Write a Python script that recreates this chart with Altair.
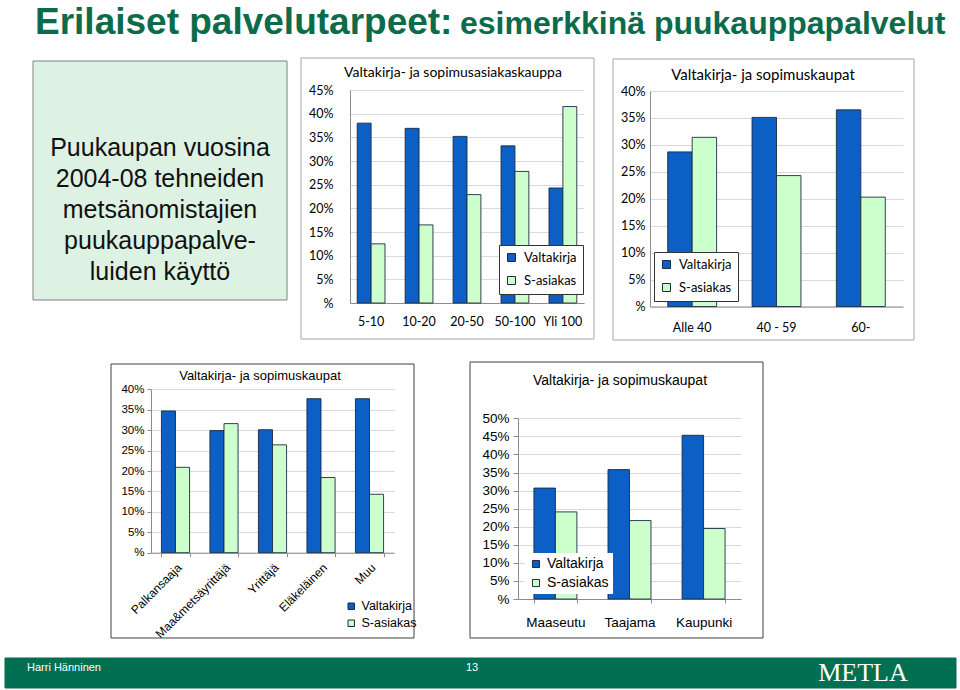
import altair as alt
import pandas as pd

W, H = 960, 690

# ---------------- data ----------------
SERIES = ["Valtakirja", "S-asiakas"]
SERIES_COLORS = ["#0B5FC5", "#CCFFCC"]

TITLE_MAIN = "Erilaiset palvelutarpeet:"
TITLE_SUB = "esimerkkinä puukauppapalvelut"
BOX_LINES = ["Puukaupan vuosina", "2004-08 tehneiden", "metsänomistajien",
             "puukauppapalve-", "luiden käyttö"]
FOOTER_AUTHOR = "Harri Hänninen"
FOOTER_PAGE = "13"
FOOTER_LOGO = "METLA"

P1_TITLE = "Valtakirja- ja sopimusasiakaskauppa"
P1_CATS = ["5-10", "10-20", "20-50", "50-100", "Yli 100"]
P1_VALTA = [38.0, 36.9, 35.2, 33.2, 24.3]
P1_SAS = [12.5, 16.5, 22.9, 27.8, 41.5]
P1_TICKS = [0, 5, 10, 15, 20, 25, 30, 35, 40, 45]

P2_TITLE = "Valtakirja- ja sopimuskaupat"
P2_CATS = ["Alle 40", "40 - 59", "60-"]
P2_VALTA = [28.7, 35.1, 36.5]
P2_SAS = [31.4, 24.3, 20.3]
P2_TICKS = [0, 5, 10, 15, 20, 25, 30, 35, 40]

P3_TITLE = "Valtakirja- ja sopimuskaupat"
P3_CATS = ["Palkansaaja", "Maa&metsäyrittäjä", "Yrittäjä", "Eläkeläinen", "Muu"]
P3_VALTA = [34.7, 29.9, 30.1, 37.7, 37.7]
P3_SAS = [20.9, 31.6, 26.4, 18.4, 14.3]
P3_TICKS = [0, 5, 10, 15, 20, 25, 30, 35, 40]

P4_TITLE = "Valtakirja- ja sopimuskaupat"
P4_CATS = ["Maaseutu", "Taajama", "Kaupunki"]
P4_VALTA = [30.7, 35.8, 45.3]
P4_SAS = [24.1, 21.7, 19.5]
P4_TICKS = [0, 5, 10, 15, 20, 25, 30, 35, 40, 45, 50]

TOP_FONT = "Lato, Open Sans, sans-serif"
BOT_FONT = "Liberation Sans, Arial, sans-serif"
LABEL_EXPR = "datum.value == 0 ? '%' : datum.value + '%'"

blank = alt.Data(values=[{}])


def rect(x, x2, y, y2, fill=None, stroke="#888888", sw=1.0):
    kw = dict(stroke=stroke, strokeWidth=sw)
    if fill:
        kw["fill"] = fill
    else:
        kw["fillOpacity"] = 0
        kw["fill"] = "white"
    return alt.Chart(blank).mark_rect(**kw).encode(
        x=alt.value(x), x2=alt.value(x2), y=alt.value(y), y2=alt.value(y2))


def text(t, x, y, size, font, color="#000000", weight="normal", align="center",
         baseline="middle", **kw):
    return alt.Chart(blank).mark_text(
        text=t, x=x, y=y, fontSize=size, font=font, color=color,
        fontWeight=weight, align=align, baseline=baseline, **kw
    ).encode(opacity=alt.value(1))


def panel(cats, valta, sas, ticks, *, xr, yr, po, font, fs, xaxis, yaxis, legend):
    n = len(cats)
    df = pd.DataFrame({
        "cat": cats + cats,
        "series": [SERIES[0]] * n + [SERIES[1]] * n,
        "value": valta + sas,
    })
    common = dict(labelFont=font, labelFontSize=fs, labelColor="#000000",
                  domainColor="#8c8c8c", tickColor="#8c8c8c", labelOverlap=False)
    xkw = dict(common, orient="bottom", offset=-(H - yr[0]), grid=False)
    xkw.update(xaxis)
    ykw = dict(common, orient="left", offset=-xr[0], values=ticks,
               labelExpr=LABEL_EXPR, grid=True, gridColor="#d9d9d9")
    ykw.update(yaxis)
    return alt.Chart(df).mark_bar(stroke="#1d2a44", strokeWidth=0.9).encode(
        x=alt.X("cat:N", sort=cats, title=None,
                scale=alt.Scale(range=xr, paddingInner=0.42, paddingOuter=po),
                axis=alt.Axis(**xkw)),
        xOffset=alt.XOffset("series:N", sort=SERIES,
                            scale=alt.Scale(paddingInner=0, paddingOuter=0)),
        y=alt.Y("value:Q", title=None,
                scale=alt.Scale(domain=[0, ticks[-1]], range=yr, nice=False, zero=True),
                axis=alt.Axis(**ykw)),
        color=alt.Color("series:N", sort=SERIES,
                        scale=alt.Scale(domain=SERIES, range=SERIES_COLORS),
                        legend=alt.Legend(orient="none", title=None, direction="vertical",
                                          symbolType="square", symbolStrokeColor="#1d2a44",
                                          symbolStrokeWidth=1, labelFont=font,
                                          labelColor="#000000", **legend)),
    )


p1 = panel(P1_CATS, P1_VALTA, P1_SAS, P1_TICKS,
           xr=[350, 584], yr=[303, 90], po=0.15, font=TOP_FONT, fs=12.5,
           xaxis=dict(ticks=False, labelPadding=12, labelAngle=0),
           yaxis=dict(ticks=False, labelPadding=17),
           legend=dict(legendX=499, legendY=245, labelFontSize=13, symbolSize=64,
                       rowPadding=9, padding=6, fillColor="white", strokeColor="#333333",
                       labelOffset=6))

p2 = panel(P2_CATS, P2_VALTA, P2_SAS, P2_TICKS,
           xr=[650, 903], yr=[306.5, 91], po=0.21, font=TOP_FONT, fs=12.5,
           xaxis=dict(ticks=False, labelPadding=15, labelAngle=0),
           yaxis=dict(ticks=False, labelPadding=5),
           legend=dict(legendX=654, legendY=252, labelFontSize=13, symbolSize=64,
                       rowPadding=9, padding=6, fillColor="white", strokeColor="#333333",
                       labelOffset=6))

p3 = panel(P3_CATS, P3_VALTA, P3_SAS, P3_TICKS,
           xr=[151, 394], yr=[552.7, 389.3], po=0.215, font=BOT_FONT, fs=11.5,
           xaxis=dict(tickBand="extent", tickSize=4, labelAngle=-45, labelPadding=5,
                      labelFontSize=12),
           yaxis=dict(tickSize=4, labelPadding=3),
           legend=dict(legendX=343, legendY=598, labelFontSize=12.5, symbolSize=42,
                       rowPadding=4, padding=2, labelOffset=4))

p4 = panel(P4_CATS, P4_VALTA, P4_SAS, P4_TICKS,
           xr=[518, 741], yr=[599, 418.3], po=0.215, font=BOT_FONT, fs=13.5,
           xaxis=dict(tickBand="extent", tickSize=4, labelAngle=0, labelPadding=12),
           yaxis=dict(tickSize=5, labelPadding=4),
           legend=dict(legendX=525, legendY=553, labelFontSize=14, symbolSize=50,
                       rowPadding=5, padding=4, fillColor="white", labelOffset=4))

layers = [
    # frames
    rect(33, 287, 61, 300, fill="#DDF2E2", stroke="#808080"),
    rect(301, 594, 58, 339, stroke="#a6a6a6"),
    rect(613, 914, 59, 340, stroke="#a6a6a6"),
    rect(111, 414, 364, 638, stroke="#404040"),
    rect(470, 763, 362, 638, stroke="#404040"),
    # panels
    p1, p2, p3, p4,
    # panel titles
    text(P1_TITLE, 453, 73, 14, TOP_FONT),
    text(P2_TITLE, 763, 75, 15, TOP_FONT),
    text(P3_TITLE, 260, 376, 13, BOT_FONT),
    text(P4_TITLE, 620, 381, 14, BOT_FONT),
    # slide title
    text(TITLE_MAIN, 35, 34, 37, BOT_FONT, color="#0B6B4A", weight="bold",
         align="left", baseline="alphabetic"),
    text(TITLE_SUB, 460, 34, 32, BOT_FONT, color="#0B6B4A", weight="bold",
         align="left", baseline="alphabetic"),
    # text box
    text(BOX_LINES, 160, 148, 25, BOT_FONT, color="#111111", lineHeight=31),
    # footer
    rect(5, 956, 658, 688, fill="#006F52", stroke="#006F52"),
    text(FOOTER_AUTHOR, 27, 668, 11, BOT_FONT, color="white", align="left"),
    text(FOOTER_PAGE, 472, 668, 11, BOT_FONT, color="white"),
    text(FOOTER_LOGO, 863, 673, 26, "Liberation Serif, serif", color="white"),
]

chart = alt.layer(*layers).resolve_scale(
    x="independent", y="independent", color="independent", xOffset="independent"
).resolve_axis(x="independent", y="independent").resolve_legend(
    color="independent"
).properties(
    width=W, height=H, autosize=alt.AutoSizeParams(type="none"), padding=0,
    background="white"
).configure_view(strokeWidth=0)

chart.save("out.html", embed_options={"renderer": "svg", "actions": False})
